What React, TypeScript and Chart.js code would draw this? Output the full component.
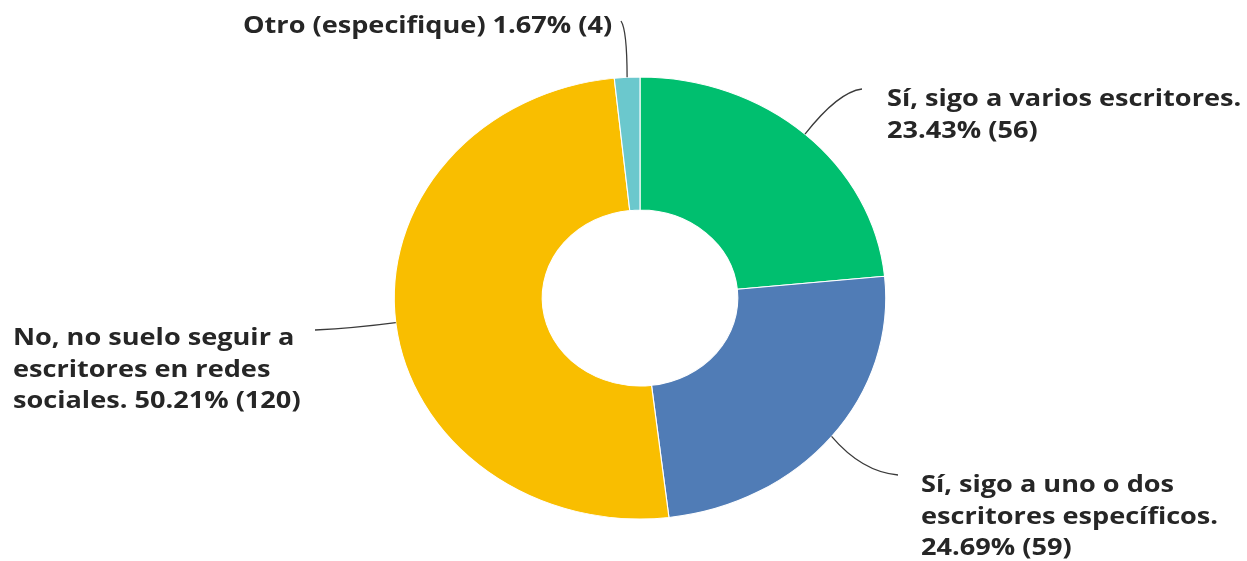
import React, { useEffect, useRef } from "react";
import { Chart, registerables } from "chart.js";

Chart.register(...registerables);

const categories = [
  "Sí, sigo a varios escritores.",
  "Sí, sigo a uno o dos escritores específicos.",
  "No, no suelo seguir a escritores en redes sociales.",
  "Otro (especifique)",
];
const percents = [23.43, 24.69, 50.21, 1.67];
const counts = [56, 59, 120, 4];
const colors = ["#00BF6F", "#507CB6", "#F9BE00", "#6BC8CD"];

// wrapped label text, one array of lines per category
const labelLines = [
  ["Sí, sigo a varios escritores.", "23.43% (56)"],
  ["Sí, sigo a uno o dos", "escritores específicos.", "24.69% (59)"],
  ["No, no suelo seguir a", "escritores en redes", "sociales. 50.21% (120)"],
  ["Otro (especifique) 1.67% (4)"],
];

const STRETCH_X = 1.112;
const TEXT_STRETCH = 1.13;

// annotation placement: text origin, leader end, curve control
const labelPlace = [
  { tx: 887, ty: 106, ex: 862, ey: 89, cx: 838, cy: 92 },
  { tx: 921, ty: 492, ex: 898, ey: 475, cx: 862, cy: 472 },
  { tx: 13, ty: 345, ex: 315, ey: 330, cx: 355, cy: 328 },
  { tx: 243, ty: 33, ex: 621, ey: 21, cx: 627, cy: 30 },
];

const stretchPlugin = {
  id: "stretch",
  beforeDatasetsDraw(chart: any) {
    const meta = chart.getDatasetMeta(0);
    const arc = meta.data[0];
    const ctx = chart.ctx;
    ctx.save();
    ctx.translate(arc.x, 0);
    ctx.scale(STRETCH_X, 1);
    ctx.translate(-arc.x, 0);
  },
  afterDatasetsDraw(chart: any) {
    chart.ctx.restore();
  },
};

const labelPlugin = {
  id: "labels",
  afterDraw(chart: any) {
    const ctx = chart.ctx;
    const meta = chart.getDatasetMeta(0);
    meta.data.forEach((arc: any, i: number) => {
      const p = arc.getProps(["x", "y", "startAngle", "endAngle", "outerRadius"], true);
      const mid = (p.startAngle + p.endAngle) / 2;
      const sx = p.x + Math.cos(mid) * p.outerRadius * STRETCH_X;
      const sy = p.y + Math.sin(mid) * p.outerRadius;
      const pl = labelPlace[i];
      ctx.save();
      ctx.strokeStyle = "#3a3a3a";
      ctx.lineWidth = 1.3;
      ctx.beginPath();
      ctx.moveTo(sx, sy);
      ctx.quadraticCurveTo(pl.cx, pl.cy, pl.ex, pl.ey);
      ctx.stroke();
      ctx.fillStyle = "#262626";
      ctx.font = "700 24px 'Open Sans'";
      ctx.textAlign = "left";
      ctx.textBaseline = "alphabetic";
      labelLines[i].forEach((line, j) => {
        ctx.save();
        ctx.translate(pl.tx, pl.ty + j * 31.5);
        ctx.scale(TEXT_STRETCH, 1);
        ctx.fillText(line, 0, 0);
        ctx.restore();
      });
      ctx.restore();
    });
  },
};

export default function App() {
  const ref = useRef<HTMLCanvasElement>(null);
  useEffect(() => {
    const chart = new Chart(ref.current as HTMLCanvasElement, {
      type: "doughnut",
      data: {
        labels: categories,
        datasets: [
          {
            data: percents,
            backgroundColor: colors,
            borderColor: "#ffffff",
            borderWidth: 1,
          },
        ],
      },
      options: {
        animation: false,
        responsive: true,
        maintainAspectRatio: false,
        cutout: "39.8%",
        layout: { padding: { top: 76.5, bottom: 41.5, left: 340, right: 307 } },
        plugins: { legend: { display: false }, tooltip: { enabled: false } },
      },
      plugins: [stretchPlugin, labelPlugin],
    });
    return () => chart.destroy();
  }, []);
  return (
    <div style={{ position: "fixed", left: 0, top: 0, width: 1247, height: 561, background: "#fff" }}>
      <canvas ref={ref} />
    </div>
  );
}
